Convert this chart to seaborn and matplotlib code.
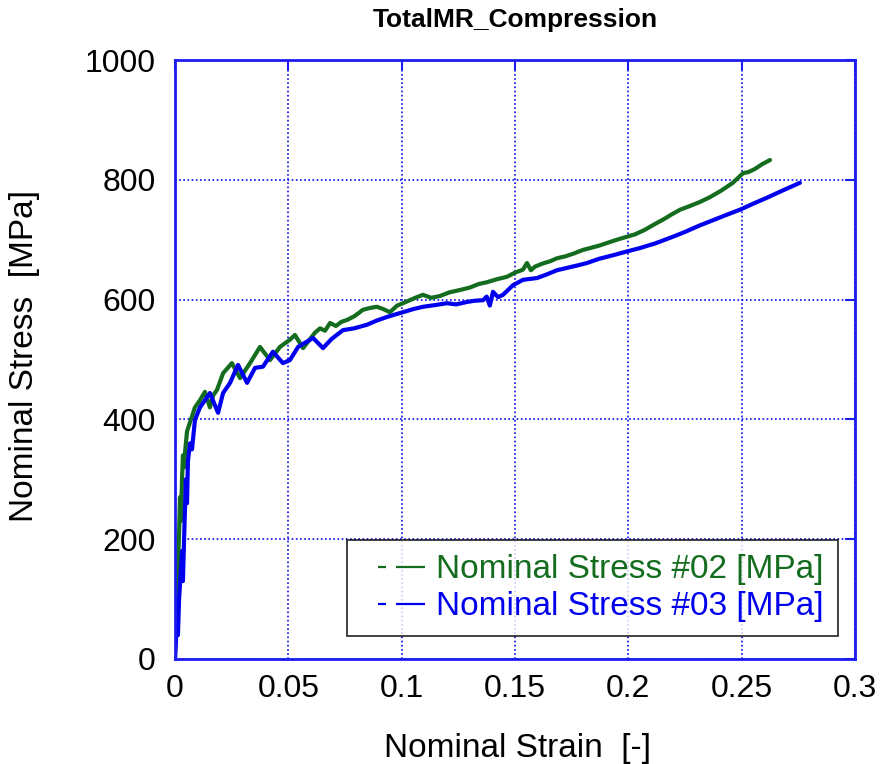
import numpy as np
import pandas as pd
import matplotlib
matplotlib.use("Agg")
import matplotlib.pyplot as plt
from matplotlib.lines import Line2D
import seaborn as sns

# ---- data ----
strain_02 = [0.0, 0.0004, 0.0009, 0.0011, 0.0013, 0.0018, 0.0022, 0.0026, 0.0031, 0.0035,
             0.0040, 0.0044, 0.0053, 0.0066, 0.0088, 0.0110, 0.0132, 0.0154, 0.0168, 0.0185,
             0.0212, 0.0251, 0.0287, 0.0331, 0.0375, 0.0419, 0.0463, 0.0507, 0.0529, 0.0565,
             0.0618, 0.0640, 0.0662, 0.0684, 0.0710, 0.0735, 0.0759, 0.0790, 0.0812, 0.0829,
             0.0860, 0.0891, 0.0920, 0.0948, 0.0980, 0.1006, 0.1030, 0.1060, 0.1094, 0.1130,
             0.1169, 0.1210, 0.1257, 0.1300, 0.1340, 0.1376, 0.1420, 0.1464, 0.1500, 0.1535,
             0.1553, 0.1570, 0.1588, 0.1620, 0.1655, 0.1685, 0.1720, 0.1760, 0.1800, 0.1831,
             0.1870, 0.1910, 0.1950, 0.1994, 0.2030, 0.2070, 0.2126, 0.2160, 0.2190, 0.2228,
             0.2270, 0.2316, 0.2360, 0.2410, 0.2461, 0.2506, 0.2530, 0.2558, 0.2590, 0.2625]
stress_02 = [0, 60, 120, 100, 150, 210, 270, 230, 300, 340,
             320, 344, 380, 395, 420, 432, 446, 420, 440, 449,
             477, 494, 469, 494, 521, 499, 521, 533, 541, 519,
             545, 552, 548, 561, 556, 563, 566, 572, 578, 583,
             586, 588, 584, 579, 590, 594, 598, 603, 608, 603,
             606, 612, 616, 620, 626, 629, 634, 638, 645, 650,
             661, 649, 655, 660, 664, 669, 672, 677, 683, 686,
             690, 695, 700, 705, 709, 716, 728, 735, 742, 750,
             756, 763, 771, 782, 795, 811, 813, 818, 826, 833]

strain_03 = [0.0, 0.0004, 0.0009, 0.0013, 0.0018, 0.0026, 0.0031, 0.0035, 0.0040, 0.0044,
             0.0048, 0.0053, 0.0057, 0.0066, 0.0075, 0.0088, 0.0110, 0.0154, 0.0190, 0.0212,
             0.0243, 0.0278, 0.0318, 0.0353, 0.0388, 0.0432, 0.0476, 0.0507, 0.0543, 0.0609,
             0.0653, 0.0690, 0.0741, 0.0790, 0.0847, 0.0890, 0.0935, 0.0970, 0.1006, 0.1050,
             0.1094, 0.1150, 0.1200, 0.1240, 0.1288, 0.1320, 0.1359, 0.1375, 0.1389, 0.1403,
             0.1425, 0.1447, 0.1491, 0.1535, 0.1597, 0.1640, 0.1685, 0.1730, 0.1775, 0.1817,
             0.1870, 0.1932, 0.1990, 0.2051, 0.2120, 0.2197, 0.2250, 0.2316, 0.2370, 0.2430,
             0.2492, 0.2550, 0.2611, 0.2680, 0.2757]
stress_03 = [0, 30, 60, 40, 100, 150, 180, 130, 200, 250,
             300, 260, 330, 360, 350, 399, 420, 444, 411, 444,
             461, 491, 461, 486, 488, 513, 494, 499, 521, 536,
             519, 534, 549, 552, 558, 565, 571, 575, 579, 584,
             588, 591, 594, 592, 596, 598, 599, 605, 590, 613,
             604, 608, 624, 633, 636, 642, 649, 653, 657, 661,
             668, 674, 680, 686, 694, 705, 713, 724, 732, 741,
             750, 760, 770, 782, 795]

series_names = ["Nominal Stress #02 [MPa]", "Nominal Stress #03 [MPa]"]
series_colors = ["#146c1e", "#0000ee"]
x_ticks = [0, 0.05, 0.1, 0.15, 0.2, 0.25, 0.3]
x_tick_labels = ["0", "0.05", "0.1", "0.15", "0.2", "0.25", "0.3"]
y_ticks = [0, 200, 400, 600, 800, 1000]

df = pd.concat([
    pd.DataFrame({"strain": strain_02, "stress": stress_02, "series": series_names[0]}),
    pd.DataFrame({"strain": strain_03, "stress": stress_03, "series": series_names[1]}),
], ignore_index=True)

sns.set_theme(style="white")
plt.rcParams["font.family"] = ["Liberation Sans", "DejaVu Sans"]
plt.rcParams["lines.scale_dashes"] = False
plt.rcParams["text.color"] = "black"
plt.rcParams["axes.labelcolor"] = "black"

fig = plt.figure(figsize=(8.82, 7.64), dpi=100)
ax = fig.add_axes([175 / 882, 1 - 659 / 764, 680 / 882, 599 / 764])

sns.lineplot(data=df, x="strain", y="stress", hue="series", palette=series_colors,
             sort=False, estimator=None, linewidth=3.0, ax=ax, legend=False)

ax.set_xlim(0, 0.3)
ax.set_ylim(0, 1000)
ax.set_xticks(x_ticks)
ax.set_xticklabels(x_tick_labels)
ax.set_yticks(y_ticks)

blue = "#1c1cf0"
ax.grid(True, color=blue, linestyle=(0, (1.2, 1.8)), linewidth=1.3)
for s in ax.spines.values():
    s.set_color(blue)
    s.set_linewidth(2)
ax.tick_params(axis="both", direction="in", length=7, width=1.5, color=blue,
               top=True, right=True, labelsize=23, labelcolor="black")
ax.tick_params(axis="x", pad=11)
ax.tick_params(axis="y", pad=14)

ax.set_xlabel("Nominal Strain  [-]", fontsize=24, color="black")
ax.set_ylabel("Nominal Stress  [MPa]", fontsize=24, color="black")
ax.xaxis.label.set_va("center")
ax.yaxis.label.set_va("center")
ax.xaxis.set_label_coords(0.503, -0.1486)
ax.yaxis.set_label_coords(-0.2206, 0.506)
ax.text(0.5, 1.0668, "TotalMR_Compression", transform=ax.transAxes, fontsize=19,
        fontweight="bold", ha="center", va="center", color="black")

px = 72 / 100  # points per pixel
handles = [Line2D([0], [0], color=c, linewidth=1.6,
                  linestyle=(47 * px, (8 * px, 10 * px, 29 * px, 17 * px)))
           for c in series_colors]
leg = ax.legend(handles, series_names, loc="lower right", bbox_to_anchor=(0.975, 0.038),
                borderaxespad=0, fontsize=24, frameon=True, fancybox=False,
                handlelength=1.92, handletextpad=0.33, borderpad=0.42, labelspacing=0.18)
leg.get_frame().set_edgecolor("black")
leg.get_frame().set_linewidth(1.3)
for t, c in zip(leg.get_texts(), series_colors):
    t.set_color(c)

fig.savefig("out.png", dpi=100)
